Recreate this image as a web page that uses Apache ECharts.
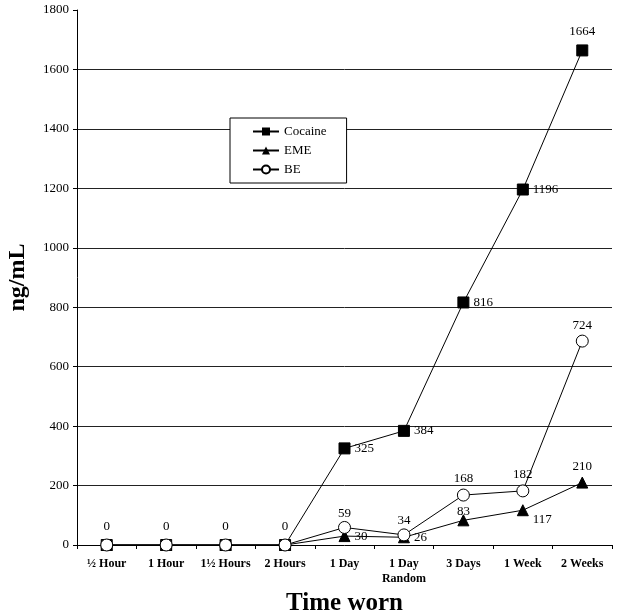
<!DOCTYPE html>
<html><head><meta charset="utf-8">
<script src="https://cdn.jsdelivr.net/npm/echarts@6/dist/echarts.min.js"></script>
<style>html,body{margin:0;padding:0;background:#fff}#c{width:621px;height:616px}</style>
</head><body><div id="c"></div>
<script>
var categories = ['½ Hour','1 Hour','1½ Hours','2 Hours','1 Day','1 Day\nRandom','3 Days','1 Week','2 Weeks'];
var cocaine = [0,0,0,0,325,384,816,1196,1664];
var eme = [0,0,0,0,30,26,83,117,210];
// BE point positions as plotted in the figure; the last point is drawn lower than its printed label
var be = [0,0,0,0,59,34,168,182,686];
// printed data labels
var cocaineLabels = ['0','0','0','0','325','384','816','1196','1664'];
var emeLabels = ['','','','','30','26','83','117','210'];
var beLabels = ['','','','','59','34','168','182','724'];
var yTicks = [0,200,400,600,800,1000,1200,1400,1600,1800];

var F = '"Liberation Serif","Times New Roman",serif';
var lbl = {fontFamily:F, fontSize:13, color:'#000'};

function mk(vals, texts, cfg){
  return vals.map(function(v,i){
    var c = cfg(i,v);
    var t = texts[i];
    return {value:v, label: Object.assign({formatter:function(){return t;}}, lbl, c)};
  });
}
var cocPos = function(i){ return (i<4||i===8)?{show:true,position:'top',distance:6}:{show:true,position:'right',distance:4}; };
var emePos = function(i){
  if(i<4) return {show:false};
  if(i===4||i===5) return {show:true,position:'right',distance:4};
  if(i===7) return {show:true,position:'right',distance:4,offset:[0,9]};
  if(i===6) return {show:true,position:'top',distance:0,offset:[0,4]};
  return {show:true,position:'top',distance:4};
};
var bePos = function(i){
  if(i<4) return {show:false};
  if(i===4||i===5) return {show:true,position:'top',distance:1};
  return {show:true,position:'top',distance:3};
};

var chart = echarts.init(document.getElementById('c'));
chart.setOption({
  animation:false,
  backgroundColor:'#fff',
  grid:{left:77,right:9,top:10,bottom:71,containLabel:false,outerBoundsMode:'none'},
  legend:{
    orient:'vertical', left:230, top:118,
    data:['Cocaine','EME','BE'],
    backgroundColor:'#fff', borderColor:'#000', borderWidth:1,
    padding:[7,20,7,22], itemGap:6, itemWidth:26, itemHeight:10,
    textStyle:{fontFamily:F, fontSize:13, color:'#000'}
  },
  xAxis:{
    type:'category', data:categories, boundaryGap:true,
    axisLine:{lineStyle:{color:'#000',width:1}},
    axisTick:{show:true, inside:false, length:4, interval:0, lineStyle:{color:'#000'}},
    axisLabel:{fontFamily:F, fontSize:12, fontWeight:'bold', color:'#000', margin:11, lineHeight:15, interval:0},
    name:'Time worn', nameLocation:'middle', nameGap:46,
    nameTextStyle:{fontFamily:F, fontSize:25, fontWeight:'bold', color:'#000'}
  },
  yAxis:{
    type:'value', min:0, max:1800, interval:200,
    axisLine:{show:true, lineStyle:{color:'#000',width:1}},
    axisTick:{show:true, length:4, lineStyle:{color:'#000'}},
    axisLabel:{fontFamily:F, fontSize:13, color:'#000', margin:8, formatter:function(v){return String(v);}},
    splitLine:{show:true, showMinLine:false, showMaxLine:false, lineStyle:{color:'#222',width:1}},
    name:'ng/mL', nameLocation:'middle', nameGap:47, nameRotate:90,
    nameTextStyle:{fontFamily:F, fontSize:24, fontWeight:'bold', color:'#000'}
  },
  series:[
    {name:'Cocaine', type:'line', data:mk(cocaine,cocaineLabels,cocPos), symbol:'rect', symbolSize:11,
     lineStyle:{color:'#000',width:1}, itemStyle:{color:'#000',borderColor:'#000'}, z:3},
    {name:'EME', type:'line', data:mk(eme,emeLabels,emePos), symbol:'triangle', symbolSize:11,
     lineStyle:{color:'#000',width:1}, itemStyle:{color:'#000',borderColor:'#000'}, z:4},
    {name:'BE', type:'line', data:mk(be,beLabels,bePos), symbol:'circle', symbolSize:12,
     lineStyle:{color:'#000',width:1}, itemStyle:{color:'#fff',borderColor:'#000',borderWidth:1}, z:5}
  ]
});
</script>
</body></html>
